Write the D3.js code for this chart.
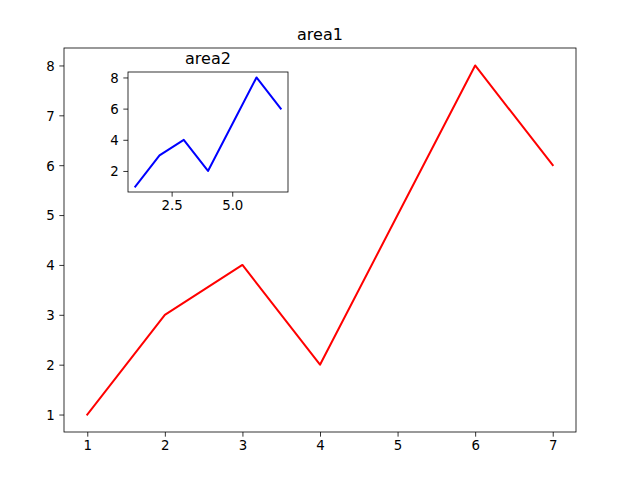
<!DOCTYPE html>
<html><head><meta charset="utf-8">
<script src="https://cdn.jsdelivr.net/npm/d3@7"></script>
<style>body{margin:0;background:#fff}text{font-family:"DejaVu Sans",sans-serif;fill:#000}</style>
</head><body>
<script>
const xs = [1,2,3,4,5,6,7];
const ys = [1,3,4,2,5,8,6];
const mainXTicks = [1,2,3,4,5,6,7];
const mainYTicks = [1,2,3,4,5,6,7,8];
const insetXTicks = [2.5,5.0];
const insetYTicks = [2,4,6,8];

const W=640,H=480;
const svg=d3.select("body").append("svg").attr("width",W).attr("height",H);
svg.append("rect").attr("width",W).attr("height",H).attr("fill","#fff");

function panel(box, title, color, xt, yt, xfmt, yfmt){
  const [l,t,r,b]=box;
  const xd=[0.7,7.3], yd=[0.65,8.35];
  const x=d3.scaleLinear().domain(xd).range([l,r]);
  const y=d3.scaleLinear().domain(yd).range([b,t]);
  const g=svg.append("g");
  g.append("rect").attr("x",l).attr("y",t).attr("width",r-l).attr("height",b-t).attr("fill","#fff");
  const line=d3.line().x((d,i)=>x(xs[i])).y(d=>y(d));
  g.append("path").datum(ys).attr("d",line).attr("fill","none").attr("stroke",color).attr("stroke-width",2).attr("stroke-linejoin","round").attr("stroke-linecap","square");
  const xa=d3.axisBottom(x).tickValues(xt).tickFormat(xfmt).tickSize(4.67).tickPadding(3.5);
  const ya=d3.axisLeft(y).tickValues(yt).tickFormat(yfmt).tickSize(4.67).tickPadding(4.67);
  const gx=g.append("g").attr("transform",`translate(0,${b})`).call(xa);
  const gy=g.append("g").attr("transform",`translate(${l},0)`).call(ya);
  [gx,gy].forEach(a=>{a.select(".domain").remove();a.selectAll("line").attr("stroke","#000").attr("stroke-width",0.8);
    a.selectAll("text").attr("font-family","DejaVu Sans").attr("font-size","13.33px").attr("fill","#000");});
  gx.selectAll("text").attr("dy","0.71em");
  gy.selectAll("text").attr("dy","0.36em");
  g.append("rect").attr("x",l).attr("y",t).attr("width",r-l).attr("height",b-t).attr("fill","none").attr("stroke","#000").attr("stroke-width",0.8);
  g.append("text").attr("x",(l+r)/2).attr("y",t-8).attr("text-anchor","middle").attr("font-size","16px").text(title);
}
panel([64,48,576,432],"area1","#ff0000",mainXTicks,mainYTicks,d3.format("d"),d3.format("d"));
panel([128,72,288,192],"area2","#0000ff",insetXTicks,insetYTicks,d3.format(".1f"),d3.format("d"));
</script>
</body></html>
